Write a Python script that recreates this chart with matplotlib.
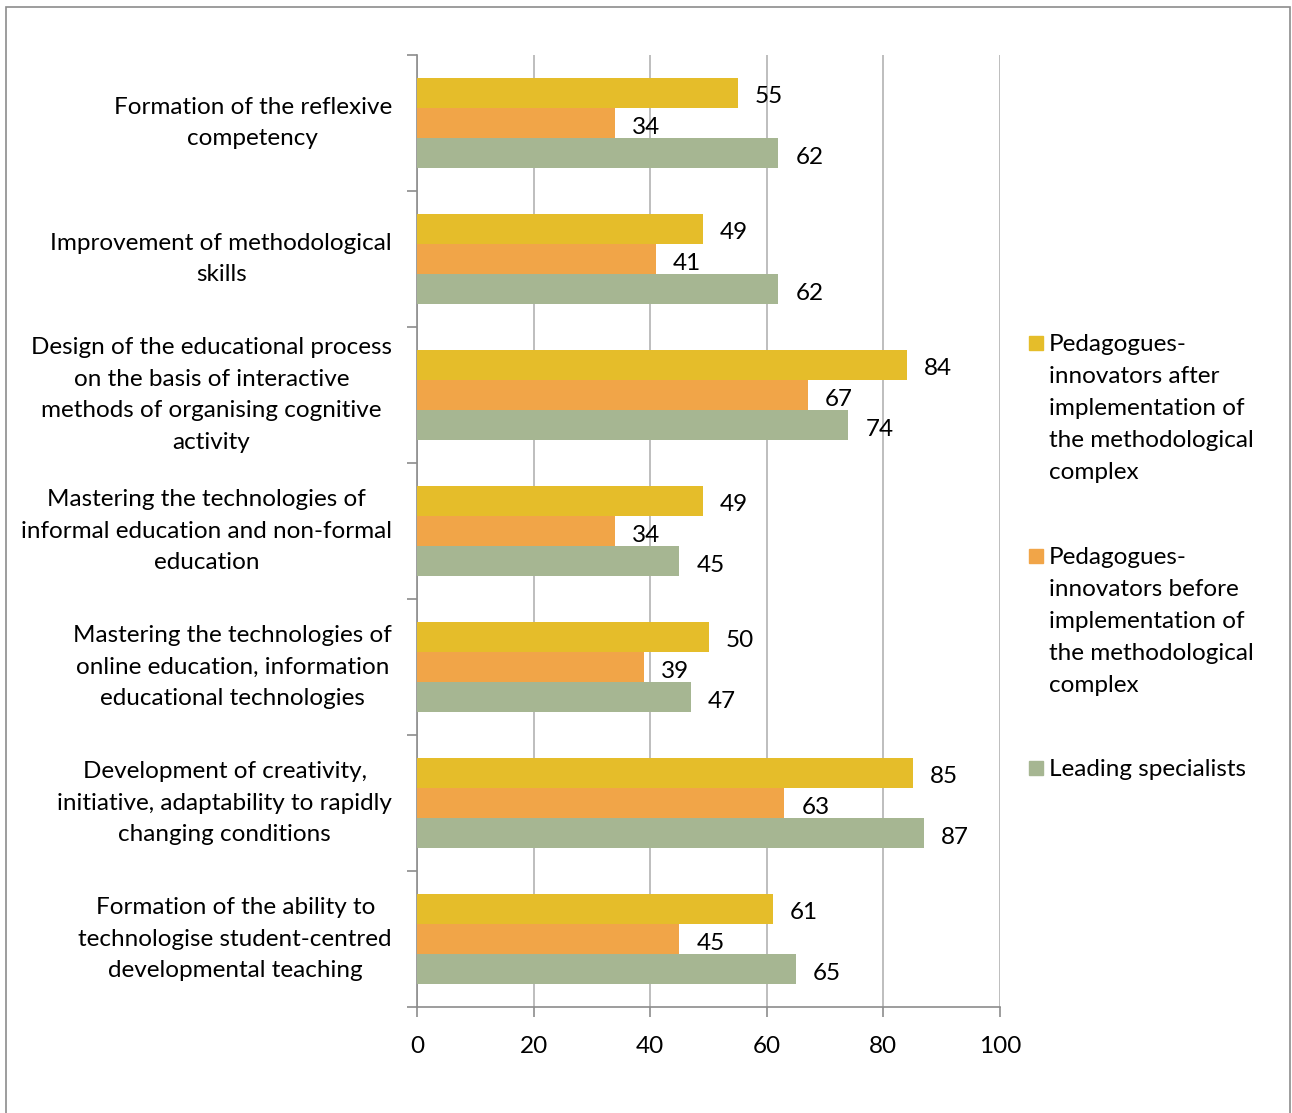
import matplotlib
matplotlib.use("Agg")
import matplotlib.pyplot as plt
from matplotlib.patches import Rectangle
from matplotlib.transforms import offset_copy
import numpy as np

plt.rcParams['font.family'] = ['Lato', 'DejaVu Sans']

categories = [
    "Formation of the reflexive\ncompetency",
    "Improvement of methodological\nskills",
    "Design of the educational process\non the basis of interactive\nmethods of organising cognitive\nactivity",
    "Mastering the technologies of\ninformal education and non-formal\neducation",
    "Mastering the technologies of\nonline education, information\neducational technologies",
    "Development of creativity,\ninitiative, adaptability to rapidly\nchanging conditions",
    "Formation of the ability to\ntechnologise student-centred\ndevelopmental teaching",
]
series_names = [
    "Pedagogues-\ninnovators after\nimplementation of\nthe methodological\ncomplex",
    "Pedagogues-\ninnovators before\nimplementation of\nthe methodological\ncomplex",
    "Leading specialists",
]
after_vals = [55, 49, 84, 49, 50, 85, 61]
before_vals = [34, 41, 67, 34, 39, 63, 45]
leading_vals = [62, 62, 74, 45, 47, 87, 65]
x_ticks = [0, 20, 40, 60, 80, 100]

colors = ["#E5BD2A", "#F1A548", "#A6B692"]
series = [after_vals, before_vals, leading_vals]

FS = 17.5
LS = 1.64

W, H = 1292, 1113
fig = plt.figure(figsize=(W / 100, H / 100), dpi=100)
fig.patch.set_facecolor("white")

# outer frame
fig.add_artist(Rectangle((6 / W, -0.01), (1290 - 6) / W, 1 - 7 / H + 0.01,
                         transform=fig.transFigure, fill=False,
                         edgecolor="#8C8C8C", linewidth=1.2))

ax = fig.add_axes([417 / W, 1 - 1007 / H, (1000 - 417) / W, (1007 - 55) / H])

n = len(categories)
ypos = np.arange(n)
bh = 0.222
offsets = [-bh, 0, bh]
label_tr = offset_copy(ax.transData, fig=fig, x=17, y=-2, units="dots")
for vals, c, off in zip(series, colors, offsets):
    ax.barh(ypos + off, vals, height=bh, color=c, zorder=3)
    for y, v in zip(ypos, vals):
        ax.text(v, y + off, f"{v}", va="center_baseline", ha="left",
                fontsize=FS, color="black", zorder=4, transform=label_tr)

ax.set_xlim(0, 100)
ax.set_ylim(n - 0.5, -0.5)
ax.set_xticks(x_ticks)
ax.set_xticklabels([str(t) for t in x_ticks], fontsize=FS)
ax.xaxis.grid(True, color="#B3B3B3", linewidth=1.2, zorder=0)
ax.set_axisbelow(True)

# category labels, ticks on boundaries
ax.set_yticks(np.arange(-0.5, n, 1.0))
ax.set_yticklabels([])
ax.set_yticks(ypos, minor=True)
ax.set_yticklabels(categories, minor=True, fontsize=FS, multialignment="center",
                   linespacing=LS)
for lbl in ax.get_yticklabels(minor=True):
    lbl.set_va("center")
ax.tick_params(axis="y", which="minor", length=0, pad=18)
ax.tick_params(axis="y", which="major", length=7, color="#8C8C8C", width=1.2)
ax.tick_params(axis="x", length=7, color="#8C8C8C", width=1.2, pad=14)

for s in ["top", "right"]:
    ax.spines[s].set_visible(False)
for s in ["left", "bottom"]:
    ax.spines[s].set_color("#8C8C8C")
    ax.spines[s].set_linewidth(1.2)

# legend, drawn as squares and wrapped labels
leg_first_line = [343, 556, 768]
for name, c, yc in zip(series_names, colors, leg_first_line):
    fig.add_artist(Rectangle((1029 / W, 1 - (yc + 7) / H), 14 / W, 14 / H,
                             transform=fig.transFigure, color=c))
    fig.text(1049 / W, 1 - (yc - 9) / H, name, ha="left", va="top",
             fontsize=FS, linespacing=LS)

fig.savefig("out.png", dpi=100, facecolor="white")
